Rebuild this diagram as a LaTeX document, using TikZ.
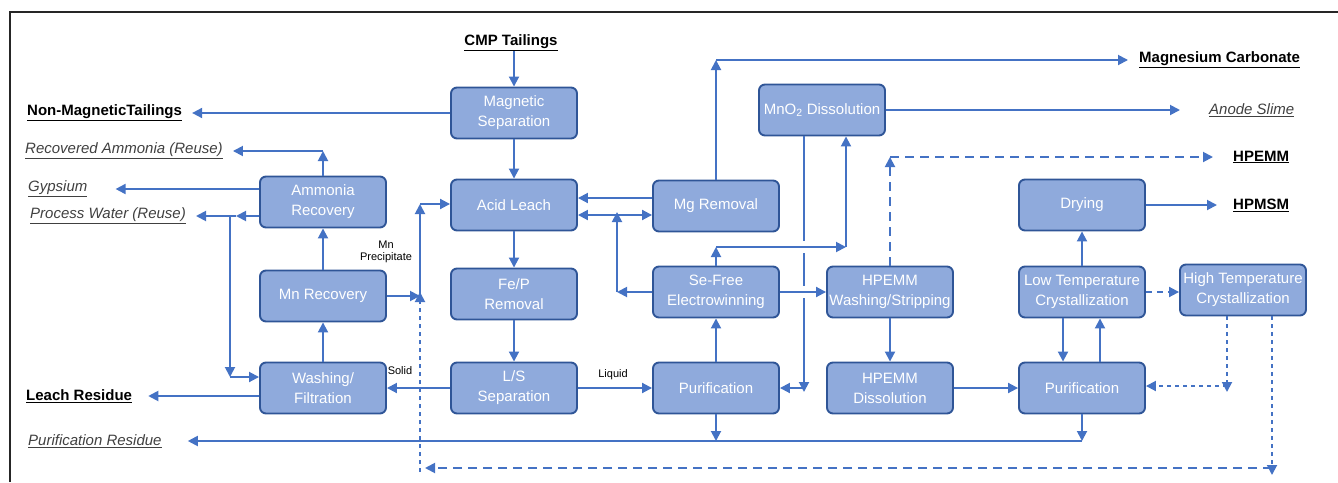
\documentclass[tikz,border=0pt]{standalone}
\usepackage{fontspec}
\setmainfont{Liberation Sans}
\usetikzlibrary{arrows.meta,calc}
\definecolor{ln}{HTML}{4472C4}
\definecolor{bx}{HTML}{8FAADC}
\definecolor{bd}{HTML}{2F5597}
\definecolor{gt}{HTML}{404040}
\tikzset{
 box/.style={draw=bd, line width=1.9pt, fill=bx, rounded corners=6pt, minimum width=126pt, minimum height=51pt, inner sep=1pt, align=center, text=white, font=\fontsize{15}{20}\selectfont},
 arr/.style={draw=ln, line width=1.9pt, -{Triangle[length=10pt,width=10pt]}},
 outb/.style={font=\fontsize{15}{18}\bfseries\selectfont, inner sep=0pt},
 outi/.style={font=\fontsize{15}{18}\itshape\selectfont, text=gt, inner sep=0pt},
 small/.style={font=\fontsize{11}{12.5}\selectfont, inner sep=0pt, align=center},
 dsh/.style={dash pattern=on 9pt off 6pt},
 dot/.style={dash pattern=on 4pt off 4pt},
}
\begin{document}
\begin{tikzpicture}[x=1pt,y=-1pt]
\useasboundingbox (0,0) rectangle (1338,482);
\draw[line width=2.6pt, black!85] (10,482) -- (10,12) -- (1338,12);

% process boxes
\node[box] (magsep) at (514,113) {Magnetic\\Separation};
\node[box] (acid)   at (514,205) {Acid Leach};
\node[box] (fep)    at (514,294) {Fe/P\\Removal};
\node[box] (ls)     at (514,388) {L/S\\Separation};
\node[box] (amm)    at (323,202) {Ammonia\\Recovery};
\node[box] (mnrec)  at (323,296) {Mn Recovery};
\node[box] (wash)   at (323,388) {Washing/\\Filtration};
\node[box] (mg)     at (716,206) {Mg Removal};
\node[box] (mno2)   at (822,110) {MnO\textsubscript{2} Dissolution};
\node[box] (sefree) at (716,292) {Se-Free\\Electrowinning};
\node[box] (pur1)   at (716,388) {Purification};
\node[box] (hpwash) at (890,292) {HPEMM\\Washing/Stripping};
\node[box] (hpdis)  at (890,388) {HPEMM\\Dissolution};
\node[box] (dry)    at (1082,205) {Drying};
\node[box] (ltc)    at (1082,292) {Low Temperature\\Crystallization};
\node[box] (htc)    at (1243,290) {High Temperature\\Crystallization};
\node[box] (pur2)   at (1082,388) {Purification};

% outputs / inputs
\node[outb] (cmp) at (511,43) {\underline{CMP Tailings}};
\node[outb,anchor=west] (nonmag) at (27,113) {\underline{Non-MagneticTailings}};
\node[outi,anchor=west] (recamm) at (25,151) {\underline{Recovered Ammonia (Reuse)}};
\node[outi,anchor=west] (gyp) at (28,189) {\underline{Gypsium}};
\node[outi,anchor=west] (pwater) at (30,216) {\underline{Process Water (Reuse)}};
\node[outb,anchor=west] (leach) at (26,396) {\underline{Leach Residue}};
\node[outi,anchor=west] (purres) at (28,441) {\underline{Purification Residue}};
\node[outb,anchor=west] (mgc) at (1139,60) {\underline{Magnesium Carbonate}};
\node[outi,anchor=west] (anode) at (1209,110) {\underline{Anode Slime}};
\node[outb,anchor=west] (hpemm) at (1233,157) {\underline{HPEMM}};
\node[outb,anchor=west] (hpmsm) at (1233,205) {\underline{HPMSM}};

% small labels
\node[small] (lmp) at (386,252) {Mn\\Precipitate};
\node[small] (lsol) at (400,371) {Solid};
\node[small] (lliq) at (613,375) {Liquid};

% helper coordinates
\coordinate (pj) at (230,216);
\coordinate (pc) at (230,377);
\coordinate (mp) at (420,296);
\coordinate (mt) at (420,204);
\coordinate (eb) at (617,292);
\coordinate (et) at (617,215);
\coordinate (sc) at (716,247);
\coordinate (sd) at (846,247);
\coordinate (mv) at (804,388);
\coordinate (hc) at (1227,386);
\coordinate (lr) at (1272,468);
\coordinate (ll) at (420,468);

% main chain
\draw[arr] (magsep.north |- cmp.south) -- (magsep.north);
\draw[arr] (magsep.west |- nonmag.east) -- ([xshift=10pt]nonmag.east);
\draw[arr] (magsep.south) -- (acid.north);
\draw[arr] (acid.south) -- (fep.north);
\draw[arr] (fep.south) -- (ls.north);
\draw[arr] (ls.west) -- (wash.east);
\draw[arr] (ls.east) -- (pur1.west);
\draw[arr] (wash.west |- leach.east) -- ([xshift=16pt]leach.east);
\draw[arr] (wash.north) -- (mnrec.south);
\draw[arr] (mnrec.north) -- (amm.south);

% ammonia recovery outputs
\draw[arr] (amm.north) -- (amm.north |- recamm.east);
\draw[arr] (amm.north |- recamm.east) -- ([xshift=10pt]recamm.east);
\draw[arr] (amm.west |- gyp.east) -- ([xshift=28pt]gyp.east);
\draw[arr] (amm.west |- pj) -- ([xshift=6pt]pj);
\draw[arr] ([xshift=6pt]pj) -- ([xshift=10pt]pwater.east);
\draw[arr] (pj) -- (pc);
\draw[arr] (pc) -- (wash.west |- pc);

% Mn precipitate
\draw[arr] (mnrec.east) -- (mp);
\draw[arr] ([yshift=2pt]mp) -- (mt);
\draw[arr] (mt) -- (acid.west |- mt);

% acid leach / Mg removal / electrowinning loop
\draw[arr] (mg.west |- 0,198) -- (acid.east |- 0,198);
\draw[arr] (sefree.west) -- (eb);
\draw[arr] (eb) -- ([yshift=3pt]et);
\draw[arr] (et) -- (acid.east |- et);
\draw[arr] (et) -- (mg.west |- et);
\draw[arr] (mg.north) -- (mg.north |- mgc.west);
\draw[arr] (mg.north |- mgc.west) -- ([xshift=-11pt]mgc.west);

% MnO2 dissolution
\draw[arr] (mno2.east) -- ([xshift=-29pt]anode.west);
\draw[arr] (mno2.south -| mv) -- ([yshift=-4pt]mv);
\draw[arr] (mv) -- (pur1.east |- mv);
\fill[white] (800,241) rectangle (808,253);
\fill[white] (800,286) rectangle (808,298);
\draw[arr] (sefree.north) -- (sc);
\draw[arr] (sc) -- (sd);
\draw[arr] (sd) -- (mno2.south -| sd);

% electrowinning and HPEMM
\draw[arr] (sefree.east) -- (hpwash.west);
\draw[arr] (pur1.north) -- (sefree.south);
\draw[arr] (hpwash.south) -- (hpdis.north);
\draw[arr] (hpdis.east) -- (pur2.west);
\draw[arr,dsh] (hpwash.north) -- (hpwash.north |- hpemm.west);
\draw[arr,dsh] (hpwash.north |- hpemm.west) -- ([xshift=-20pt]hpemm.west);

% crystallization
\draw[arr] (pur2.north -| 1100,0) -- (ltc.south -| 1100,0);
\draw[arr] (ltc.south -| 1063,0) -- (pur2.north -| 1063,0);
\draw[arr] (ltc.north) -- (dry.south);
\draw[arr] (dry.east) -- ([xshift=-16pt]hpmsm.west);
\draw[arr,dash pattern=on 6pt off 5pt] (ltc.east) -- (htc.west |- ltc.east);
\draw[arr,dot] (htc.south -| hc) -- ([yshift=-6pt]hc);
\draw[arr,dot] (hc) -- (pur2.east |- hc);
\draw[arr,dot] (htc.south -| lr) -- ([yshift=-7pt]lr);
\draw[arr,dsh] (lr) -- ([xshift=5pt]ll);
\draw[arr,dot] ([yshift=-4pt]ll) -- ([yshift=4pt]mp);

% purification residue
\draw[arr] (pur1.south) -- (pur1.south |- purres.east);
\draw[arr] (pur2.south) -- (pur2.south |- purres.east);
\draw[arr] (pur2.south |- purres.east) -- ([xshift=26pt]purres.east);
\end{tikzpicture}
\end{document}
